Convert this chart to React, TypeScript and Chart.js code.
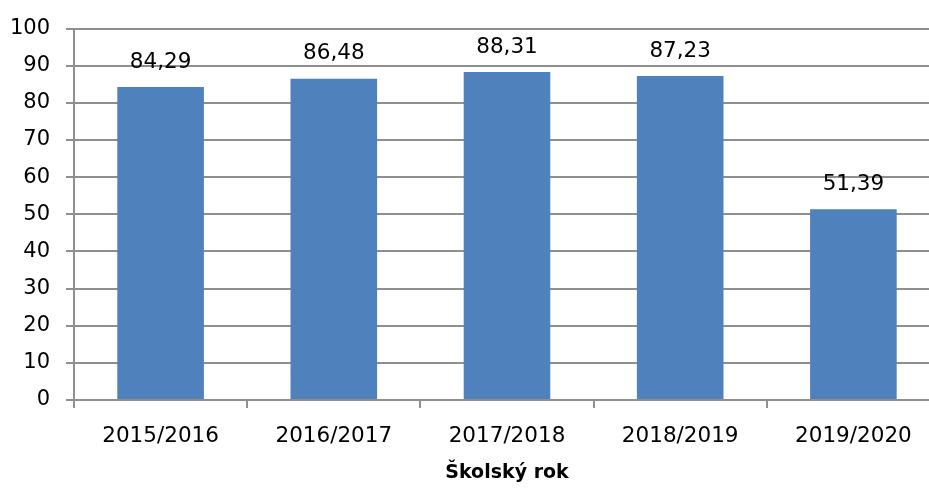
import React, { useEffect, useRef } from "react";
import { Chart, registerables } from "chart.js";

Chart.register(...registerables);

const categories = ["2015/2016", "2016/2017", "2017/2018", "2018/2019", "2019/2020"];
const values = [84.29, 86.48, 88.31, 87.23, 51.39];
const yMin = 0;
const yMax = 100;
const yStep = 10;
const xTitle = "Školský rok";

const FONT = '"DejaVu Sans", sans-serif';
const GRID = "#8f8f8f";
const BAR = "#4F81BD";

const fmt = (v: number) => v.toFixed(2).replace(".", ",");

const valueLabels = {
  id: "valueLabels",
  afterDatasetsDraw(chart: any) {
    const ctx = chart.ctx;
    const meta = chart.getDatasetMeta(0);
    ctx.save();
    ctx.font = `21.5px ${FONT}`;
    ctx.fillStyle = "#000";
    ctx.textAlign = "center";
    ctx.textBaseline = "middle";
    meta.data.forEach((bar: any, i: number) => {
      ctx.fillText(fmt(values[i]), bar.x, bar.y - 25);
    });
    ctx.restore();
  },
};

export default function App() {
  const ref = useRef<HTMLCanvasElement | null>(null);

  useEffect(() => {
    if (!ref.current) return;
    const chart = new Chart(ref.current, {
      type: "bar",
      data: {
        labels: categories,
        datasets: [
          {
            data: values,
            backgroundColor: BAR,
            borderWidth: 0,
            categoryPercentage: 1,
            barPercentage: 0.5,
          },
        ],
      },
      options: {
        responsive: false,
        animation: false,
        layout: { padding: { top: 23, right: 20, left: 0, bottom: 0 } },
        plugins: {
          legend: { display: false },
          tooltip: { enabled: false },
          title: { display: false },
        },
        scales: {
          x: {
            offset: true,
            grid: {
              offset: true,
              drawOnChartArea: false,
              drawTicks: true,
              tickLength: 8,
              color: GRID,
              lineWidth: 2,
            },
            border: { color: GRID, width: 2 },
            ticks: {
              color: "#000",
              font: { family: FONT, size: 21.5 },
              padding: 16,
              maxRotation: 0,
            },
            title: {
              display: true,
              text: xTitle,
              color: "#000",
              font: { family: FONT, size: 19, weight: "bold" },
              padding: { top: 0, bottom: 4 },
            },
            afterFit(scale: any) {
              scale.height = 88;
            },
          },
          y: {
            min: yMin,
            max: yMax,
            grid: {
              color: GRID,
              lineWidth: 2,
              tickLength: 8,
              drawTicks: true,
            },
            border: { color: GRID, width: 2 },
            ticks: {
              stepSize: yStep,
              color: "#000",
              font: { family: FONT, size: 21 },
              padding: 16,
            },
            afterFit(scale: any) {
              scale.width = 74;
            },
          },
        },
      },
      plugins: [valueLabels],
    });
    return () => chart.destroy();
  }, []);

  return (
    <div
      style={{
        position: "fixed",
        left: 0,
        top: 0,
        width: 929,
        height: 488,
        overflow: "hidden",
        background: "#fff",
      }}
    >
      <canvas ref={ref} width={960} height={488} style={{ display: "block" }} />
    </div>
  );
}
